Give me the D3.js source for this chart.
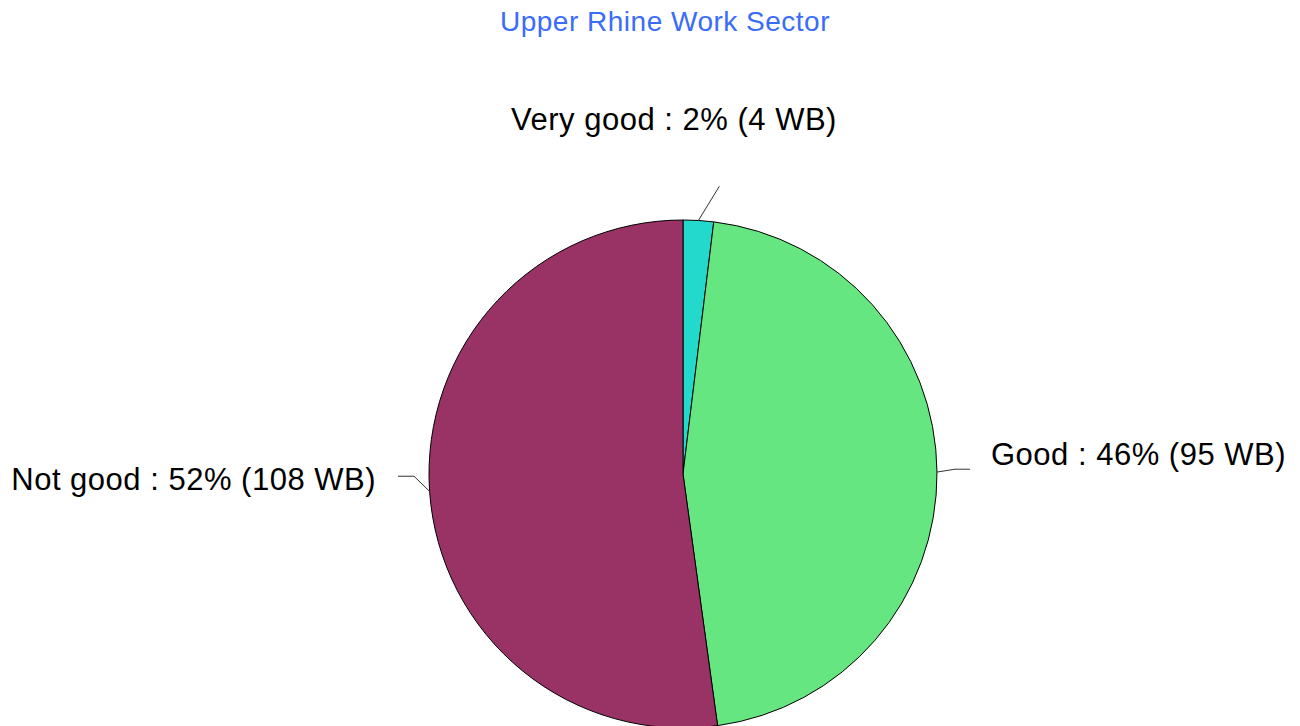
<!DOCTYPE html>
<html>
<head>
<meta charset="utf-8">
<script src="https://cdn.jsdelivr.net/npm/d3@7"></script>
<style>
  html, body { margin: 0; padding: 0; background: #ffffff; }
  svg { display: block; }
</style>
</head>
<body>
<svg id="chart" width="1300" height="726"></svg>
<script>
// Water body status, Upper Rhine work sector
const categories = ["Very good", "Good", "Not good"];
const counts = [4, 95, 108];
const percents = [2, 46, 52];
const colors = ["#22d9cb", "#66e680", "#993366"];

const W = 1300, H = 726;
const cx = 683, cy = 474, R = 254;

const svg = d3.select("#chart");

svg.append("text")
  .attr("x", 665).attr("y", 31)
  .attr("text-anchor", "middle")
  .attr("font-family", "Liberation Sans, Arial, sans-serif")
  .attr("font-size", 28)
  .attr("letter-spacing", 0.5)
  .attr("fill", "#3a6cfa")
  .text("Upper Rhine Work Sector");

const pie = d3.pie().sort(null).value(d => d.count);
const data = categories.map((c, i) => ({ cat: c, count: counts[i], pct: percents[i], color: colors[i] }));
const arcs = pie(data);

const arc = d3.arc().innerRadius(0).outerRadius(R);

const g = svg.append("g").attr("transform", `translate(${cx},${cy})`);

g.selectAll("path.slice")
  .data(arcs)
  .join("path")
  .attr("class", "slice")
  .attr("d", arc)
  .attr("fill", d => d.data.color)
  .attr("stroke", "#000")
  .attr("stroke-width", 1);

// point on a circle of radius r at pie angle a (0 = 12 o'clock, clockwise)
const pt = (a, r) => [Math.sin(a) * r, -Math.cos(a) * r];

// leader geometry per label: bend offset (angle delta, radial extra) and horizontal tail
const leaderStyle = [
  { da: 0.065, dr: 36, tail: 0 },
  { da: -0.01, dr: 18, tail: 15 },
  { da: 0.06, dr: 15, tail: -16 }
];
const labelPos = [
  { x: 674, y: 129.5, anchor: "middle" },
  { x: 991, y: 465, anchor: "start" },
  { x: 376, y: 489.5, anchor: "end" }
];

arcs.forEach((d, i) => {
  const mid = (d.startAngle + d.endAngle) / 2;
  const s = leaderStyle[i];
  const p1 = pt(mid, R);
  const p2 = pt(mid + s.da, R + s.dr);
  const pts = [p1, p2];
  if (s.tail !== 0) pts.push([p2[0] + s.tail, p2[1]]);
  g.append("path")
    .attr("d", d3.line()(pts))
    .attr("fill", "none")
    .attr("stroke", "#333")
    .attr("stroke-width", 1);

  const lp = labelPos[i];
  svg.append("text")
    .attr("x", lp.x).attr("y", lp.y)
    .attr("text-anchor", lp.anchor)
    .attr("font-family", "Liberation Sans, Arial, sans-serif")
    .attr("font-size", 31)
    .attr("letter-spacing", 0.5)
    .attr("fill", "#000")
    .text(`${d.data.cat} : ${d.data.pct}% (${d.data.count} WB)`);
});
</script>
</body>
</html>
